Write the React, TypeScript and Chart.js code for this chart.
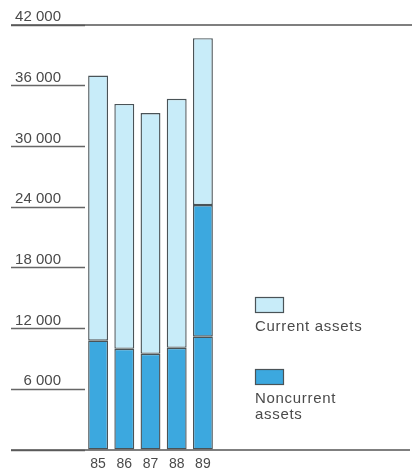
import React, { useEffect, useRef } from "react";
import { Chart, registerables } from "chart.js";

Chart.register(...registerables);

// Fiscal years and balance-sheet assets (in thousands)
const years = ["85", "86", "87", "88", "89"];
const noncurrentAssets = [10800, 10000, 9500, 10100, 11200];
const noncurrentAdditions = [0, 0, 0, 0, 13000];
const currentAssets = [26200, 24200, 23800, 24600, 16500];

const yTickLabels = ["", "6 000", "12 000", "18 000", "24 000", "30 000", "36 000", "42 000"];
const yMax = 42000;
const yStep = 6000;

const legendLabels = [["Current assets"], ["Noncurrent", "assets"]];

const LIGHT = "#c8ecf9";
const DARK = "#3ca8df";
const EDGE = "#4a5357";
const INK = "#4a4a4a";
const FONT = "'Liberation Sans', Arial, Helvetica, sans-serif";

// Full-width top rule and baseline, plus the box legend on the right
const decorations = {
  id: "decorations",
  afterDatasetsDraw(chart: any) {
    const ctx = chart.ctx;
    const y = chart.scales.y;
    ctx.save();
    ctx.strokeStyle = "#555555";
    ctx.lineWidth = 1.6;
    const topY = y.getPixelForValue(yMax);
    const baseY = y.getPixelForValue(0);
    ctx.beginPath();
    ctx.moveTo(11, topY);
    ctx.lineTo(412, topY);
    ctx.moveTo(11, baseY);
    ctx.lineTo(410, baseY);
    ctx.stroke();

    // legend
    const swatches = [LIGHT, DARK];
    const boxTops = [297, 369];
    ctx.font = `15px ${FONT}`;
    (ctx as any).letterSpacing = "0.7px";
    ctx.textAlign = "left";
    ctx.textBaseline = "middle";
    legendLabels.forEach((lines, i) => {
      ctx.fillStyle = swatches[i];
      ctx.fillRect(255, boxTops[i], 29, 16);
      ctx.strokeStyle = EDGE;
      ctx.lineWidth = 1.2;
      ctx.strokeRect(255.5, boxTops[i] + 0.5, 28, 15);
      ctx.fillStyle = INK;
      lines.forEach((line, j) => {
        ctx.fillText(line, 255, boxTops[i] + 30 + j * 16);
      });
    });
    ctx.restore();
  },
};

export default function App() {
  const canvasRef = useRef<HTMLCanvasElement | null>(null);

  useEffect(() => {
    document.body.style.margin = "0";
    const canvas = canvasRef.current;
    if (!canvas) return;
    const barStyle = {
      borderColor: EDGE,
      borderWidth: 1.4,
      borderSkipped: false,
      barPercentage: 0.76,
      categoryPercentage: 1,
    };
    const chart = new Chart(canvas, {
      type: "bar",
      data: {
        labels: years,
        datasets: [
          { label: "Noncurrent assets", data: noncurrentAssets, backgroundColor: DARK, ...barStyle },
          { label: "Noncurrent assets (added)", data: noncurrentAdditions, backgroundColor: DARK, ...barStyle },
          { label: "Current assets", data: currentAssets, backgroundColor: LIGHT, ...barStyle },
        ],
      },
      options: {
        responsive: false,
        animation: false,
        layout: { padding: { left: 11, right: 196, top: 25, bottom: 0 } },
        plugins: { legend: { display: false }, tooltip: { enabled: false } },
        scales: {
          x: {
            stacked: true,
            grid: { display: false, drawTicks: false },
            border: { display: false },
            ticks: { color: INK, padding: 6, font: { family: FONT, size: 14 } },
            afterFit: (scale: any) => {
              scale.height = 22;
            },
          },
          y: {
            stacked: true,
            min: 0,
            max: yMax,
            border: { display: false },
            grid: {
              drawOnChartArea: false,
              drawTicks: true,
              tickLength: 74,
              color: "#666666",
              tickWidth: 1.4,
            },
            ticks: {
              stepSize: yStep,
              crossAlign: "near",
              padding: -50,
              labelOffset: -8,
              color: INK,
              font: { family: FONT, size: 15 },
              callback: (_v: any, i: number) => yTickLabels[i],
            },
            afterFit: (scale: any) => {
              scale.width = 74;
            },
          },
        },
      },
      plugins: [decorations],
    });
    return () => chart.destroy();
  }, []);

  return (
    <div style={{ position: "absolute", left: 0, top: 0, width: 412, height: 472, background: "#fff" }}>
      <canvas ref={canvasRef} width={412} height={472} />
    </div>
  );
}
